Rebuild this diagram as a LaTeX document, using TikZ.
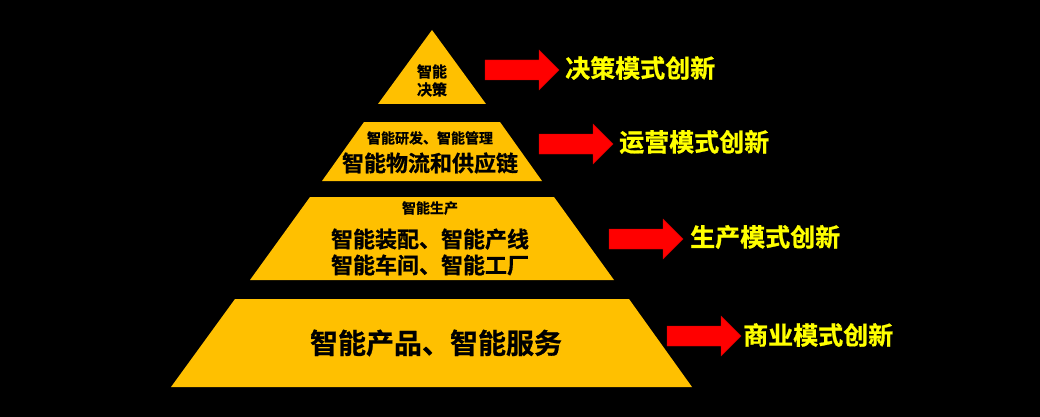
\documentclass[tikz,border=0pt]{standalone}
\usepackage{fontspec}
\newfontfamily\cjk[FakeBold=0.8]{Noto Sans CJK SC Bold}
\definecolor{gold}{HTML}{FFC000}
\definecolor{lab}{HTML}{FFFF00}
\definecolor{arr}{HTML}{FF0000}
\tikzset{
  layer/.style={fill=gold},
  intext/.style={text=black, inner sep=0pt, align=center},
  labtext/.style={text=lab, inner sep=0pt, anchor=west, font=\cjk\fontsize{25}{25}\selectfont},
  blockarrow/.style={fill=arr, draw=arr!80!black, line width=0.4pt}
}
\newcommand{\myarrow}[3]{% name, x, y (left end, center)
  \fill[blockarrow] (#2,#3-10) -- (#2+54,#3-10) -- (#2+54,#3-20) -- (#2+74,#3) -- (#2+54,#3+20) -- (#2+54,#3+10) -- (#2,#3+10) -- cycle;
  \coordinate (#1) at (#2+74,#3);
}
\begin{document}
\begin{tikzpicture}[x=1pt,y=-1pt]
\fill[black] (0,0) rectangle (1040,417);
\useasboundingbox (0,0) rectangle (1040,417);
% pyramid layers
\fill[layer] (432,30) -- (486,104) -- (378,104) -- cycle;
\fill[layer] (364,122) -- (500,122) -- (542,181) -- (322,181) -- cycle;
\fill[layer] (310,197) -- (554,197) -- (614,280) -- (250,280) -- cycle;
\fill[layer] (235,299) -- (629,299) -- (692,387) -- (171,387) -- cycle;
% layer texts
\node[intext, font=\cjk\fontsize{15}{18}\selectfont] (t1) at (432,80.5) {智能\\决策};
\node[intext, font=\cjk\fontsize{14}{14}\selectfont] (t2a) at (430,138) {智能研发、智能管理};
\node[intext, font=\cjk\fontsize{22}{22}\selectfont] (t2b) at (430,163) {智能物流和供应链};
\node[intext, font=\cjk\fontsize{14}{14}\selectfont] (t3a) at (430,208) {智能生产};
\node[intext, font=\cjk\fontsize{22}{26}\selectfont] (t3b) at (430,252) {智能装配、智能产线\\智能车间、智能工厂};
\node[intext, font=\cjk\fontsize{28}{28}\selectfont] (t4) at (436,343) {智能产品、智能服务};
% arrows
\myarrow{a1}{485}{70}
\myarrow{a2}{539}{144}
\myarrow{a3}{609}{239}
\myarrow{a4}{667}{336}
% labels
\node[labtext] (l1) at (565,68) {决策模式创新};
\node[labtext] (l2) at (619,142) {运营模式创新};
\node[labtext] (l3) at (690,237) {生产模式创新};
\node[labtext] (l4) at (743,335) {商业模式创新};
\end{tikzpicture}
\end{document}
